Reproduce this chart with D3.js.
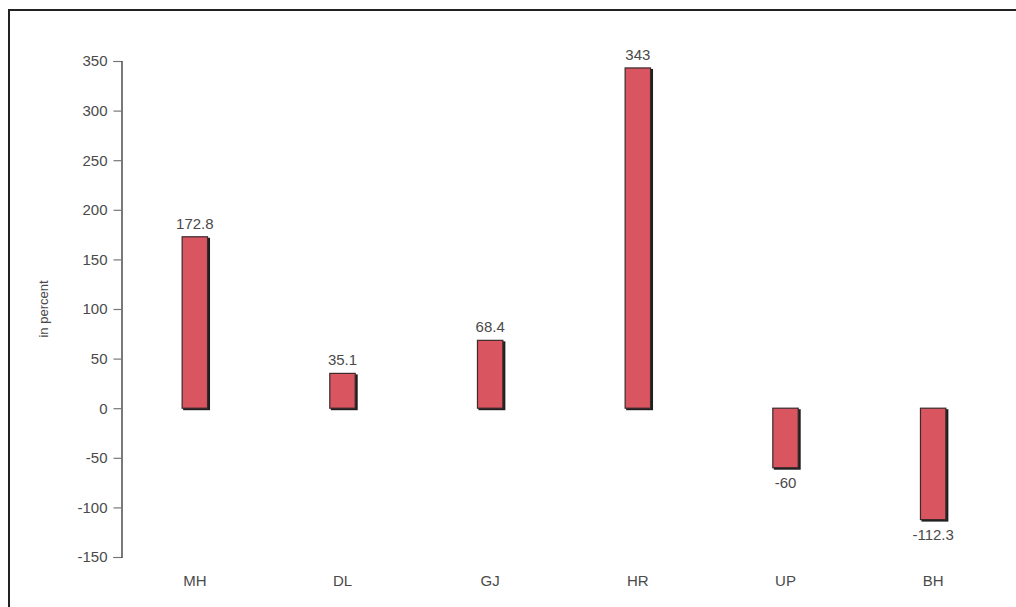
<!DOCTYPE html>
<html><head><meta charset="utf-8">
<script src="https://cdn.jsdelivr.net/npm/d3@7"></script>
<style>
html,body{margin:0;padding:0;background:#fff;}
svg{display:block;}
text{font-family:"Liberation Sans",Arial,Helvetica,sans-serif;fill:#4a4a4a;}
</style></head><body>
<svg id="chart" width="1016" height="607"></svg>
<script>
const categories = ["MH","DL","GJ","HR","UP","BH"];
const values = [172.8, 35.1, 68.4, 343, -60, -112.3];
const valueLabels = ["172.8","35.1","68.4","343","-60","-112.3"];
const yTicks = [-150,-100,-50,0,50,100,150,200,250,300,350];
const yTitle = "in percent";

const svg = d3.select("#chart");
const W = 1016, H = 607;
const FF = "'Liberation Sans',Arial,sans-serif";

// frame
svg.append("rect").attr("x",9).attr("y",10).attr("width",W+20).attr("height",H+20)
  .attr("fill","none").attr("stroke","#222").attr("stroke-width",2);

const x = d3.scaleBand().domain(categories).range([121, 1007]).padding(0);
const y = d3.scaleLinear().domain([-150, 350]).range([557, 61]);
const barW = x.step() * 0.172;

// y axis
const yAxis = d3.axisLeft(y).tickValues(yTicks).tickSize(8).tickPadding(6).tickFormat(d => String(d));
const gy = svg.append("g").attr("transform","translate(121.5,0)").call(yAxis);
gy.select(".domain").attr("stroke","#222").attr("stroke-width",1.2);
gy.selectAll(".tick line").attr("stroke","#777").attr("stroke-width",1.2);
gy.selectAll(".tick text").attr("font-size",15).attr("fill","#4a4a4a").style("font-family",FF);

// y title
svg.append("text").attr("transform",`translate(48,${(y(350)+y(-150))/2}) rotate(-90)`)
  .attr("text-anchor","middle").attr("font-size",13).text(yTitle);

// bars
const bars = svg.append("g");
categories.forEach((c,i)=>{
  const v = values[i];
  const cx = x(c) + x.bandwidth()/2;
  const top = y(Math.max(0,v)), bot = y(Math.min(0,v));
  const x0 = cx - barW/2;
  bars.append("rect").attr("x",x0+1).attr("y",top+1).attr("width",barW+1.5).attr("height",bot-top+1)
    .attr("fill","#1e1e1e");
  bars.append("rect").attr("x",x0).attr("y",top).attr("width",barW).attr("height",bot-top)
    .attr("fill","#d9555f").attr("stroke","#3a2a2c").attr("stroke-width",1.2);
  svg.append("text").attr("x",cx).attr("y", v>=0 ? top-8 : bot+20)
    .attr("text-anchor","middle").attr("font-size",15).text(valueLabels[i]);
});

// category labels
const xAxis = d3.axisBottom(x).tickSize(0).tickPadding(0);
const gx = svg.append("g").attr("transform","translate(0,575)").call(xAxis);
gx.select(".domain").remove();
gx.selectAll(".tick text").attr("font-size",15).attr("fill","#4a4a4a").attr("dy","0.71em").style("font-family",FF);
</script>
</body></html>
